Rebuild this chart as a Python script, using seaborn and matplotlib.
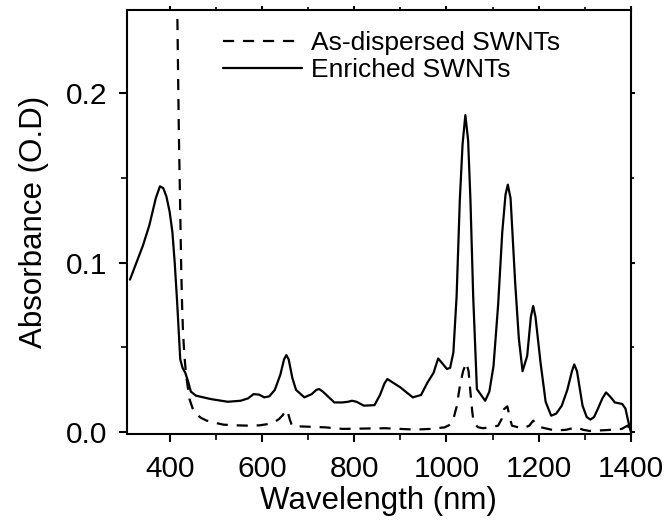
# Absorbance spectra of as-dispersed vs enriched SWNTs

import seaborn as sns
import matplotlib.pyplot as plt
import pandas as pd
from matplotlib.ticker import MultipleLocator

# --- data ---
enriched_nm = [314, 342, 356, 370, 379, 386, 393, 400, 406, 411, 416, 420, 423, 428, 434, 440,
               446, 457, 489, 526, 554, 570, 582, 594, 605, 616, 628, 640, 648, 653, 658,
               666, 674, 692, 708, 718, 724, 732, 757, 775, 787, 795, 805, 821, 844, 856,
               866, 872, 880, 900, 927, 945, 959, 972, 982, 990, 1001, 1008, 1015, 1022,
               1029, 1035, 1041, 1047, 1052, 1058, 1066, 1075, 1084, 1093, 1102, 1112, 1121,
               1128, 1133, 1139, 1149, 1157, 1165, 1175, 1183, 1188, 1193, 1204, 1215,
               1227, 1238, 1250, 1262, 1272, 1277, 1283, 1295, 1304, 1312, 1320, 1328,
               1338, 1346, 1355, 1365, 1381, 1388, 1393, 1397, 1400]
enriched_abs = [0.090, 0.110, 0.122, 0.138, 0.145, 0.144, 0.139, 0.130, 0.118, 0.100, 0.078,
                0.058, 0.043, 0.038, 0.035, 0.030, 0.024, 0.0216, 0.0196, 0.018, 0.0186,
                0.020, 0.0225, 0.0222, 0.0206, 0.0212, 0.025, 0.034, 0.043, 0.0455, 0.043,
                0.032, 0.025, 0.0206, 0.0225, 0.025, 0.0255, 0.024, 0.0176, 0.0176, 0.018,
                0.0186, 0.018, 0.0157, 0.016, 0.022, 0.029, 0.0314, 0.030, 0.0265, 0.0206,
                0.022, 0.0294, 0.035, 0.0435, 0.041, 0.0373, 0.038, 0.047, 0.080, 0.137,
                0.170, 0.187, 0.172, 0.137, 0.080, 0.0255, 0.022, 0.0186, 0.024, 0.039,
                0.075, 0.118, 0.140, 0.146, 0.138, 0.088, 0.055, 0.036, 0.045, 0.068,
                0.0745, 0.068, 0.041, 0.018, 0.0098, 0.011, 0.0157, 0.025, 0.036, 0.040,
                0.036, 0.0157, 0.009, 0.0075, 0.009, 0.0137, 0.020, 0.0235, 0.021, 0.0176,
                0.0167, 0.014, 0.0078, 0.003, 0.0]

dispersed_nm = [414, 417, 420, 423, 425, 427, 429, 432, 436, 443, 450, 457, 468, 480, 500,
                517, 545, 572, 595, 614, 627, 637, 645, 651, 655, 660, 665, 680, 701, 738,
                775, 820, 867, 900, 932, 965, 996, 1008, 1015, 1022, 1029, 1036, 1043, 1048,
                1052, 1056, 1059, 1068, 1079, 1095, 1112, 1120, 1125, 1132, 1137, 1142,
                1155, 1167, 1180, 1188, 1195, 1204, 1220, 1236, 1260, 1282, 1296, 1310,
                1340, 1365, 1380, 1393, 1400]
dispersed_abs = [0.30, 0.24, 0.176, 0.13, 0.098, 0.075, 0.059, 0.045, 0.033, 0.0196, 0.014,
                 0.0108, 0.0085, 0.0069, 0.0055, 0.0045, 0.0041, 0.0039, 0.0041, 0.0049,
                 0.006, 0.0078, 0.010, 0.0127, 0.013, 0.008, 0.0039, 0.0035, 0.0033, 0.0029,
                 0.002, 0.0022, 0.0024, 0.002, 0.0016, 0.002, 0.0029, 0.0045, 0.0078, 0.015,
                 0.027, 0.036, 0.041, 0.036, 0.0235, 0.012, 0.0059, 0.003, 0.0024, 0.003,
                 0.0039, 0.008, 0.0137, 0.0153, 0.009, 0.0039, 0.003, 0.0024, 0.004, 0.0069,
                 0.005, 0.003, 0.002, 0.001, 0.0015, 0.003, 0.0015, 0.0008, 0.0012, 0.0016,
                 0.002, 0.004, 0.0]

legend_labels = ["As-dispersed SWNTs", "Enriched SWNTs"]

df = pd.concat([
    pd.DataFrame({"nm": dispersed_nm, "abs": dispersed_abs, "sample": legend_labels[0]}),
    pd.DataFrame({"nm": enriched_nm, "abs": enriched_abs, "sample": legend_labels[1]}),
])

sns.set_style("ticks")
plt.rcParams["font.family"] = ["Liberation Sans", "DejaVu Sans"]
plt.rcParams["text.color"] = "black"
plt.rcParams["axes.labelcolor"] = "black"
plt.rcParams["xtick.color"] = "black"
plt.rcParams["ytick.color"] = "black"

fig = plt.figure(figsize=(6.67, 5.21), dpi=100)
ax = fig.add_axes([0.190, 0.167, 0.756, 0.814])

for name, ls in zip(legend_labels, [(0, (5, 4)), "-"]):
    sub = df[df["sample"] == name]
    sns.lineplot(data=sub, x="nm", y="abs", ax=ax, color="black", lw=1.6,
                 linestyle=ls, label=name, sort=False, estimator=None)

ax.set_xlim(307, 1400)
ax.set_ylim(-0.001, 0.249)
ax.xaxis.set_major_locator(MultipleLocator(200))
ax.xaxis.set_minor_locator(MultipleLocator(100))
ax.yaxis.set_major_locator(MultipleLocator(0.1))
ax.yaxis.set_minor_locator(MultipleLocator(0.05))
ax.set_yticks([0.0, 0.1, 0.2], ["0.0", "0.1", "0.2"])

for s in ax.spines.values():
    s.set_linewidth(1.5)
    s.set_color("black")
ax.tick_params(which="major", length=6, width=1.5, labelsize=21.5,
               direction="out", top=True, right=True)
ax.tick_params(axis="x", which="major", pad=9)
ax.tick_params(axis="y", which="major", pad=8)
ax.tick_params(which="minor", length=4, width=1.2, direction="out", top=True, right=True)
for t in ax.xaxis.get_ticklines(minor=False)[1::2] + ax.yaxis.get_ticklines(minor=False)[1::2]:
    t.set_markersize(3)
for t in ax.xaxis.get_ticklines(minor=True)[1::2] + ax.yaxis.get_ticklines(minor=True)[1::2]:
    t.set_markersize(2)

ax.set_xlabel("Wavelength (nm)", fontsize=22.5, labelpad=2)
ax.set_ylabel("Absorbance (O.D)", fontsize=22.5, labelpad=12)

ax.legend(loc="upper left", bbox_to_anchor=(0.17, 0.975), frameon=False, fontsize=19,
          handlelength=3.0, handletextpad=0.35, labelspacing=0.12, borderaxespad=0.0)

plt.savefig("out.png", dpi=100)
